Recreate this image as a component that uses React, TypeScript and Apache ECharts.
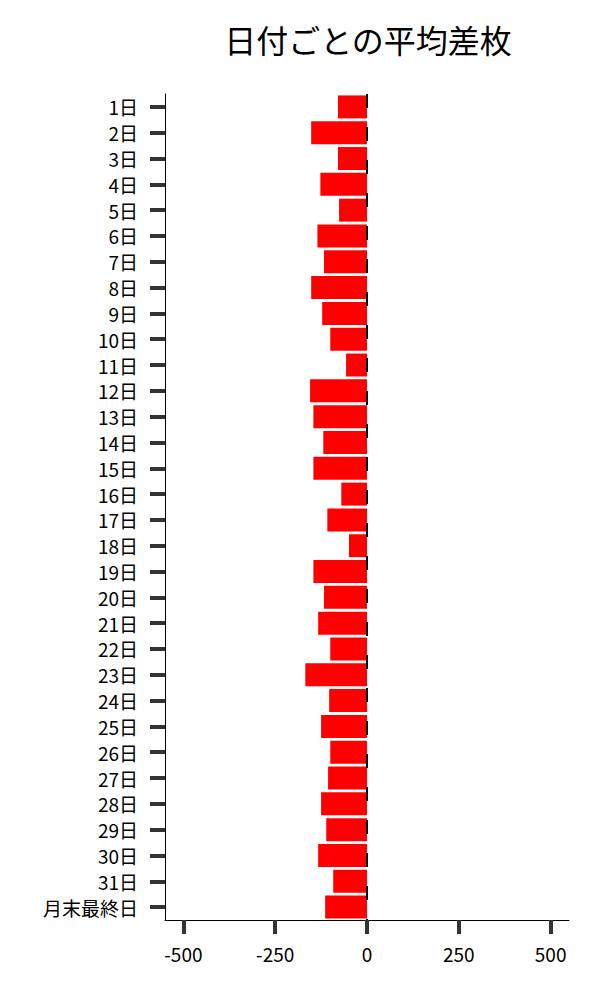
import React, { useEffect, useRef } from 'react';
import * as echarts from 'echarts';

const days = [
  '1日', '2日', '3日', '4日', '5日', '6日', '7日', '8日', '9日', '10日',
  '11日', '12日', '13日', '14日', '15日', '16日', '17日', '18日', '19日', '20日',
  '21日', '22日', '23日', '24日', '25日', '26日', '27日', '28日', '29日', '30日',
  '31日', '月末最終日',
];

const avgDiff = [
  -79, -152, -79, -127, -76, -135, -117, -152, -122, -100,
  -57, -155, -146, -119, -146, -70, -108, -49, -146, -117,
  -133, -100, -168, -103, -125, -100, -106, -125, -111, -133,
  -92, -114,
];

const xTicks = [-500, -250, 0, 250, 500];

const FONT = '"Noto Sans CJK JP", "Noto Sans", sans-serif';

export default function App() {
  const ref = useRef<HTMLDivElement>(null);

  useEffect(() => {
    if (!ref.current) return;
    const chart = echarts.init(ref.current, null, { renderer: 'svg' });
    chart.setOption({
      animation: false,
      backgroundColor: '#fff',
      title: {
        text: '日付ごとの平均差枚',
        left: 363,
        top: 18,
        textAlign: 'center',
        textStyle: { fontFamily: FONT, fontSize: 32, fontWeight: 'normal', color: '#000' },
      },
      grid: { left: 165, right: 31, top: 94, bottom: 80, containLabel: false },
      xAxis: {
        type: 'value',
        min: -550,
        max: 550,
        axisLine: { show: true, onZero: false, lineStyle: { color: '#000', width: 1 } },
        axisTick: { show: true, customValues: xTicks, length: 14, lineStyle: { color: '#333', width: 4 } },
        axisLabel: { customValues: xTicks, margin: 24, fontSize: 19, color: '#000', fontFamily: FONT },
        splitLine: { show: false },
      },
      yAxis: {
        type: 'category',
        data: days,
        inverse: true,
        axisLine: { show: true, onZero: false, lineStyle: { color: '#000', width: 1 } },
        axisTick: {
          show: true, interval: 0, alignWithLabel: true, length: 15,
          lineStyle: { color: '#333', width: 4 },
        },
        axisLabel: {
          interval: 0, margin: 27, fontSize: 19, lineHeight: 20,
          color: '#000', fontFamily: FONT,
        },
      },
      series: [
        {
          type: 'bar',
          data: avgDiff,
          barCategoryGap: '11%',
          itemStyle: { color: '#ff0000' },
          markLine: {
            silent: true,
            symbol: 'none',
            label: { show: false },
            lineStyle: { color: '#000', width: 2, type: [14, 19] },
            data: [{ xAxis: 0 }],
          },
        },
      ],
    });
    return () => chart.dispose();
  }, []);

  return (
    <div
      ref={ref}
      style={{ position: 'fixed', left: 0, top: 0, width: 600, height: 1000 }}
    />
  );
}
